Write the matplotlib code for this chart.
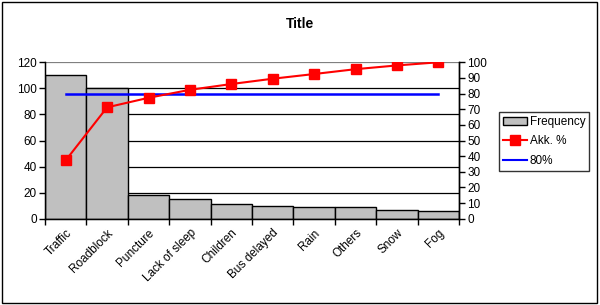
import matplotlib
matplotlib.use("Agg")
import matplotlib.pyplot as plt
from matplotlib.patches import Rectangle
from matplotlib.lines import Line2D
from matplotlib.patches import Patch

plt.rcParams['font.family'] = ['Liberation Sans', 'DejaVu Sans']

categories = ["Traffic", "Roadblock", "Puncture", "Lack of sleep", "Children",
              "Bus delayed", "Rain", "Others", "Snow", "Fog"]
frequency = [110, 100, 18, 15, 11, 10, 9, 9, 7, 6]
akk_pct = [37.3, 71.2, 77.3, 82.4, 86.1, 89.5, 92.5, 95.6, 98.0, 100.0]
threshold = [80] * len(categories)
title = "Title"

fig = plt.figure(figsize=(6.0, 3.05), dpi=100)
ax = fig.add_axes([45/600, 1-218.7/305, (459-45)/600, (218.7-62.3)/305])
x = list(range(len(categories)))

ax.bar(x, frequency, width=1.0, color="#C0C0C0", edgecolor="black", linewidth=1.0, zorder=2)
ax.set_xlim(-0.5, len(categories) - 0.5)
ax.set_ylim(0, 120)
ax.set_yticks(range(0, 121, 20))
for v in range(20, 101, 20):
    ax.axhline(v, color="black", linewidth=0.9, zorder=1)
ax.axhline(120, color="#808080", linewidth=0.9, zorder=1)

ax.set_xticks([i - 0.5 for i in range(len(categories) + 1)])
ax.set_xticklabels([])
ax.set_xticks(x, minor=True)
ax.set_xticklabels(categories, minor=True, rotation=45, ha="right",
                   rotation_mode="anchor", fontsize=8.5)
ax.tick_params(axis="x", which="minor", length=0, pad=6)
ax.tick_params(axis="x", which="major", length=4, width=1, direction="out")
ax.tick_params(axis="y", length=4, width=1, direction="out", labelsize=8.5, pad=2)

ax.spines["top"].set_visible(False)
for s in ["left", "bottom", "right"]:
    ax.spines[s].set_linewidth(1.0)

ax2 = ax.twinx()
ax2.set_ylim(0, 100)
ax2.set_yticks(range(0, 101, 10))
ax2.tick_params(axis="y", length=4, width=1, direction="out", labelsize=8.5, pad=2)
ax2.spines["top"].set_visible(False)
ax2.spines["right"].set_linewidth(1.0)

ax2.plot(x, akk_pct, color="#FF0000", linewidth=1.5, marker="s",
         markersize=6.5, markerfacecolor="#FF0000", markeredgecolor="#FF0000", zorder=4)
ax2.plot(x, threshold, color="#0000FF", linewidth=1.8, zorder=3)

handles = [
    Patch(facecolor="#C0C0C0", edgecolor="black", linewidth=1.0),
    Line2D([0], [0], color="#FF0000", linewidth=1.5, marker="s", markersize=6.5),
    Line2D([0], [0], color="#0000FF", linewidth=1.5),
]
leg = fig.legend(handles, ["Frequency", "Akk. %", "80%"],
                 loc="upper left", bbox_to_anchor=(499/600, 1-112/305),
                 fontsize=8.5, frameon=True, fancybox=False, borderpad=0.35,
                 handlelength=2.0, handletextpad=0.25, labelspacing=0.62,
                 borderaxespad=0)
leg.get_frame().set_edgecolor("black")
leg.get_frame().set_linewidth(1.0)

fig.text(300/600, 1-24/305, title, ha="center", va="center",
         fontsize=10, fontweight="bold")

fig.patches.append(Rectangle((2/600, 2/305), 595/600, 301/305, transform=fig.transFigure,
                             fill=False, edgecolor="black", linewidth=1.0))

fig.savefig("out.png", dpi=100)
